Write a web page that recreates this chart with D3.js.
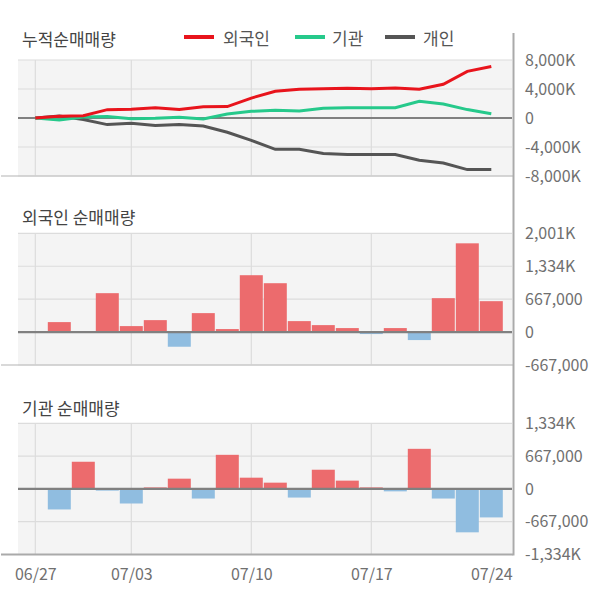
<!DOCTYPE html>
<html>
<head>
<meta charset="UTF-8">
<title>순매매량</title>
<script src="https://cdnjs.cloudflare.com/ajax/libs/d3/7.8.5/d3.min.js"></script>
<style>
body { margin:0; background:#fff; }
text { font-family:"Noto Sans CJK KR","Noto Sans",sans-serif; }
.title { font-size:17px; fill:#444; }
.legend { font-size:17px; fill:#555; }
.tick text { font-size:16px; fill:#707070; }
</style>
</head>
<body>
<div id="chart"></div>
<script>
// trading days shown on the x axis
var dates = ["06/27","06/28","07/01","07/02","07/03","07/04","07/05","07/08","07/09","07/10",
             "07/11","07/12","07/15","07/16","07/17","07/18","07/19","07/22","07/23","07/24"];
var dateTicks = ["06/27","07/03","07/10","07/17","07/24"];

// cumulative net buying (shares)
var foreignCum  = [0, 250000, 300000, 1150000, 1200000, 1420000, 1160000, 1560000, 1570000, 2750000,
                   3680000, 3950000, 4050000, 4100000, 4050000, 4150000, 3960000, 4650000, 6440000, 7100000];
var instCum     = [0, -280000, 140000, 190000, -90000, -50000, 100000, -130000, 550000, 920000,
                   1060000, 970000, 1340000, 1430000, 1430000, 1430000, 2300000, 1930000, 1160000, 600000];
var personalCum = [0, 270000, -220000, -910000, -730000, -1050000, -910000, -1100000, -1970000, -3080000,
                   -4320000, -4320000, -4910000, -5050000, -5050000, -5050000, -5830000, -6200000, -7120000, -7120000];

// daily net buying (shares)
var foreignNet = [0, 202000, 0, 788000, 121000, 242000, -297000, 384000, 61000, 1152000,
                  990000, 222000, 141000, 81000, -40000, 81000, -162000, 687000, 1798000, 626000];
var instNet    = [0, -418000, 552000, -35000, -297000, 30000, 208000, -196000, 693000, 228000,
                  127000, -176000, 390000, 168000, 30000, -50000, 815000, -196000, -883000, -580000];

// y tick values per panel
var cumTicks     = [8000000, 4000000, 0, -4000000, -8000000];
var foreignTicks = [2001000, 1334000, 667000, 0, -667000];
var instTicks    = [1334000, 667000, 0, -667000, -1334000];

var width = 600, height = 604;
var left = 18, right = 512;
var svg = d3.select("#chart").append("svg").attr("width", width).attr("height", height);

var loc = d3.formatLocale({decimal:".", thousands:",", grouping:[3], currency:["",""], minus:"-"});
var comma = loc.format(",");
function fmt(v){ return Math.abs(v) >= 1000000 ? comma(v/1000) + "K" : comma(v); }

var x = d3.scalePoint().domain(dates).range([35.3, 491.3]);
var bw = x.step() - 1;

function panel(top, bottom, ticks, title, titleY, borderColor, borderWidth){
  var y = d3.scaleLinear().domain([ticks[ticks.length-1], ticks[0]]).range([bottom, top]);
  var g = svg.append("g");
  g.append("rect").attr("x", left).attr("y", top).attr("width", right-left).attr("height", bottom-top).attr("fill", "#f4f4f4");
  g.selectAll(".hg").data(ticks).enter().append("line")
    .attr("x1", left).attr("x2", right)
    .attr("y1", function(d){return y(d);}).attr("y2", function(d){return y(d);})
    .style("stroke", "#dcdcdc").style("stroke-width", 1.2);
  g.selectAll(".vg").data(dateTicks.slice(0, -1)).enter().append("line")
    .attr("x1", function(d){return x(d);}).attr("x2", function(d){return x(d);})
    .attr("y1", top).attr("y2", bottom)
    .style("stroke", "#dcdcdc").style("stroke-width", 1.2);
  g.append("line").attr("x1", 1).attr("x2", right+1).attr("y1", bottom).attr("y2", bottom)
    .style("stroke", borderColor).style("stroke-width", borderWidth);
  var ax = svg.append("g").attr("transform", "translate(521,0)")
    .call(d3.axisRight(y).tickValues(ticks).tickSize(0).tickPadding(4).tickFormat(fmt));
  ax.select(".domain").remove();
  svg.append("text").attr("class", "title").attr("x", 22).attr("y", titleY).text(title);
  return {g:g, y:y};
}

function zeroLine(p){
  p.g.append("line").attr("x1", left).attr("x2", right)
    .attr("y1", p.y(0)).attr("y2", p.y(0))
    .style("stroke", "#808080").style("stroke-width", 2.2);
}

function bars(p, vals){
  p.g.selectAll(".bar").data(vals).enter().append("rect")
    .attr("x", function(d,i){return x(dates[i]) - bw/2;})
    .attr("width", bw)
    .attr("y", function(d){return p.y(Math.max(0,d));})
    .attr("height", function(d){return Math.abs(p.y(d) - p.y(0));})
    .attr("fill", function(d){return d >= 0 ? "#ec6b6d" : "#90bde0";});
  zeroLine(p);
}

// top: cumulative
var p1 = panel(60, 176, cumTicks, "누적순매매량", 46, "#cccccc", 1.5);
zeroLine(p1);
var line = d3.line().x(function(d,i){return x(dates[i]);}).y(function(d){return p1.y(d);});
var series = [
  {name:"외국인", vals:foreignCum, color:"#e8141c", lx:184, tx:223},
  {name:"기관", vals:instCum, color:"#26c98b", lx:295, tx:332},
  {name:"개인", vals:personalCum, color:"#555555", lx:385, tx:423}
];
// draw personal first, foreign on top
[series[2], series[1], series[0]].forEach(function(s){
  p1.g.append("path").datum(s.vals).attr("d", line)
    .attr("fill", "none").style("stroke", s.color).style("stroke-width", 3);
});
series.forEach(function(s){
  svg.append("line").attr("x1", s.lx).attr("x2", s.lx+30).attr("y1", 37).attr("y2", 37)
    .style("stroke", s.color).style("stroke-width", 4);
  svg.append("text").attr("class", "legend").attr("x", s.tx).attr("y", 45).text(s.name);
});

// middle: foreign daily
var p2 = panel(233.3, 365, foreignTicks, "외국인 순매매량", 224, "#cccccc", 1.5);
bars(p2, foreignNet);

// bottom: institutional daily
var p3 = panel(423.3, 554.5, instTicks, "기관 순매매량", 415, "#aaaaaa", 2.2);
bars(p3, instNet);

// right axis line
svg.append("line").attr("x1", 513.5).attr("x2", 513.5).attr("y1", 33).attr("y2", 555.5)
  .style("stroke", "#aaaaaa").style("stroke-width", 2);

// x axis labels
var xa = svg.append("g").attr("transform", "translate(0,566)")
  .call(d3.axisBottom(x).tickValues(dateTicks).tickSize(0).tickPadding(0));
xa.select(".domain").remove();
xa.selectAll("text").attr("dy", "0.9em");
</script>
</body>
</html>
